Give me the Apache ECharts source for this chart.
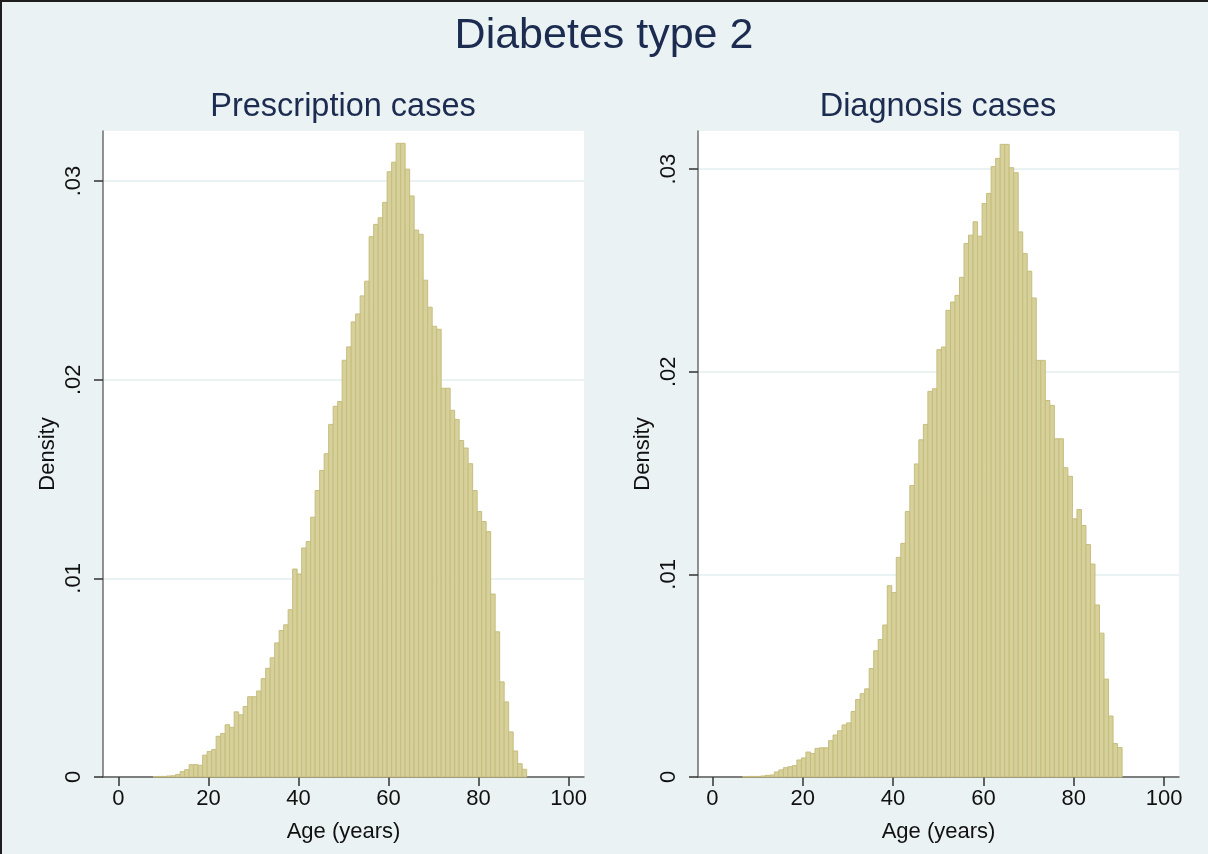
<!DOCTYPE html>
<html>
<head>
<meta charset="utf-8">
<title>Diabetes type 2</title>
<script src="https://cdn.jsdelivr.net/npm/echarts@6/dist/echarts.min.js"></script>
<style>
  html, body { margin: 0; padding: 0; background: #eaf2f3; }
  #chart { width: 1208px; height: 854px; }
</style>
</head>
<body>
<div id="chart"></div>
<script>

// histogram densities, one bar per year of age

var prescriptionStart = 7.7;
var diagnosisStart = 6.7;
var binWidth = 1;

var prescriptionDensity = [
    0.00002, 0.00003, 0.00003, 0.00005, 0.00006, 0.00013, 0.00027, 0.00037, 0.00062, 0.00062, 0.00059,
    0.0011, 0.00128, 0.00138, 0.00205, 0.00219, 0.00263, 0.0025, 0.00328, 0.00313, 0.00355,
    0.00404, 0.00404, 0.00433, 0.00495, 0.00547, 0.006, 0.00675, 0.00737, 0.00766, 0.00842,
    0.01047, 0.01022, 0.01153, 0.01185, 0.01308, 0.01442, 0.01543, 0.01627, 0.01775, 0.01866,
    0.0189, 0.02098, 0.02165, 0.02291, 0.02331, 0.02422, 0.02496, 0.0272, 0.02782, 0.02815,
    0.02893, 0.03047, 0.03095, 0.0319, 0.0319, 0.0306, 0.02925, 0.02753, 0.02732, 0.02501,
    0.02365, 0.02269, 0.02254, 0.01957, 0.01957, 0.01846, 0.018, 0.01694, 0.01656, 0.01577,
    0.01442, 0.01336, 0.01286, 0.01235, 0.00921, 0.00731, 0.00479, 0.00378, 0.00227, 0.00131, 0.00067, 0.00039
];

var diagnosisDensity = [
    0.00002, 0.00003, 0.00003, 0.00003, 0.00005, 0.00008, 0.0001, 0.00025, 0.00035, 0.00046, 0.00051,
    0.00056, 0.00084, 0.00094, 0.00123, 0.00116, 0.00141, 0.00144, 0.00144, 0.00179, 0.00207,
    0.00228, 0.00257, 0.00267, 0.00323, 0.00382, 0.00411, 0.00435, 0.00535, 0.00623, 0.00679,
    0.0075, 0.00944, 0.0091, 0.01084, 0.01153, 0.0131, 0.01438, 0.01545, 0.01664, 0.0174,
    0.01903, 0.01916, 0.02109, 0.02122, 0.02303, 0.02344, 0.02377, 0.02466, 0.02633, 0.02674,
    0.0274, 0.02669, 0.0283, 0.0288, 0.03012, 0.03053, 0.03122, 0.03122, 0.03007, 0.02982,
    0.0269, 0.02583, 0.02496, 0.02364, 0.02056, 0.02056, 0.01858, 0.01834, 0.01669, 0.01669,
    0.01526, 0.01484, 0.01274, 0.0132, 0.01241, 0.01147, 0.01051, 0.00849, 0.0071, 0.00483, 0.00301, 0.00165, 0.00145
];

var xTicks = [0, 20, 40, 60, 80, 100];
var yTicks = [0, 0.01, 0.02, 0.03];

var mainTitle = 'Diabetes type 2';
var panelTitles = ['Prescription cases', 'Diagnosis cases'];
var xName = 'Age (years)';
var yName = 'Density';


var FONT = '"Liberation Sans", Arial, sans-serif';
var NAVY = '#1c2b50';
var BG = '#eaf2f3';

function toBins(start, values) {
    var out = [];
    for (var i = 0; i < values.length; i++) {
        var x0 = start + i * binWidth;
        out.push([x0, x0 + binWidth, values[i]]);
    }
    return out;
}

function renderBar(params, api) {
    var p0 = api.coord([api.value(0), api.value(2)]);
    var p1 = api.coord([api.value(1), 0]);
    return {
        type: 'rect',
        shape: { x: p0[0], y: p0[1], width: p1[0] - p0[0], height: p1[1] - p0[1] },
        style: { fill: '#d6d09a', stroke: '#c6bd7d', lineWidth: 1 }
    };
}

function yLabel(v) {
    if (v === 0) return '0';
    return v.toFixed(2).replace(/^0/, '');
}

function makeX(idx, min, max) {
    return {
        type: 'value', gridIndex: idx, min: min, max: max,
        name: xName, nameLocation: 'middle', nameGap: 44,
        nameTextStyle: { fontFamily: FONT, fontSize: 22, color: '#111' },
        axisLine: { show: true, onZero: false, lineStyle: { color: '#5a5a5a', width: 1.5 } },
        axisTick: { show: true, customValues: xTicks, length: 9, lineStyle: { color: '#333', width: 1.5 } },
        axisLabel: { customValues: xTicks, margin: 11, fontFamily: FONT, fontSize: 22, color: '#111' },
        splitLine: { show: false }
    };
}

function makeY(idx, max) {
    return {
        type: 'value', gridIndex: idx, min: 0, max: max, interval: 0.01,
        name: yName, nameLocation: 'middle', nameGap: 44, nameRotate: 90,
        nameTextStyle: { fontFamily: FONT, fontSize: 22, color: '#111' },
        axisLine: { show: true, onZero: false, lineStyle: { color: '#6e6e6e', width: 1.5 } },
        axisTick: { show: true, customValues: yTicks, length: 9, lineStyle: { color: '#333', width: 1.5 } },
        axisLabel: { customValues: yTicks, rotate: 90, margin: 18, fontFamily: FONT, fontSize: 22, color: '#111', formatter: yLabel },
        splitLine: { show: true, lineStyle: { color: BG, width: 2 } }
    };
}

var chart = echarts.init(document.getElementById('chart'), null, { renderer: 'canvas' });

chart.setOption({
    backgroundColor: BG,
    animation: false,
    title: [
        { text: mainTitle, left: 'center', top: 15, padding: 0,
          textStyle: { fontFamily: FONT, fontSize: 43, fontWeight: 'normal', color: NAVY } },
        { text: panelTitles[0], left: 343, top: 91, padding: 0, textAlign: 'center',
          textStyle: { fontFamily: FONT, fontSize: 32.5, fontWeight: 'normal', color: NAVY } },
        { text: panelTitles[1], left: 938, top: 91, padding: 0, textAlign: 'center',
          textStyle: { fontFamily: FONT, fontSize: 32.5, fontWeight: 'normal', color: NAVY } }
    ],
    grid: [
        { left: 103, top: 131, width: 481, bottom: 77, show: true, backgroundColor: '#fff', borderWidth: 0 },
        { left: 698, top: 131, width: 481, bottom: 77, show: true, backgroundColor: '#fff', borderWidth: 0 }
    ],
    xAxis: [makeX(0, -3.44, 103.44), makeX(1, -3.2, 103.3)],
    yAxis: [makeY(0, 0.03252), makeY(1, 0.03188)],
    series: [
        { type: 'custom', xAxisIndex: 0, yAxisIndex: 0, renderItem: renderBar,
          encode: { x: [0, 1], y: 2 }, data: toBins(prescriptionStart, prescriptionDensity) },
        { type: 'custom', xAxisIndex: 1, yAxisIndex: 1, renderItem: renderBar,
          encode: { x: [0, 1], y: 2 }, data: toBins(diagnosisStart, diagnosisDensity) }
    ],
    graphic: [
        { type: 'rect', left: 0, top: 0, shape: { width: 1208, height: 2 }, style: { fill: '#1e1e1e' } },
        { type: 'rect', left: 0, top: 0, shape: { width: 2, height: 854 }, style: { fill: '#1e1e1e' } }
    ]
});
</script>
</body>
</html>
